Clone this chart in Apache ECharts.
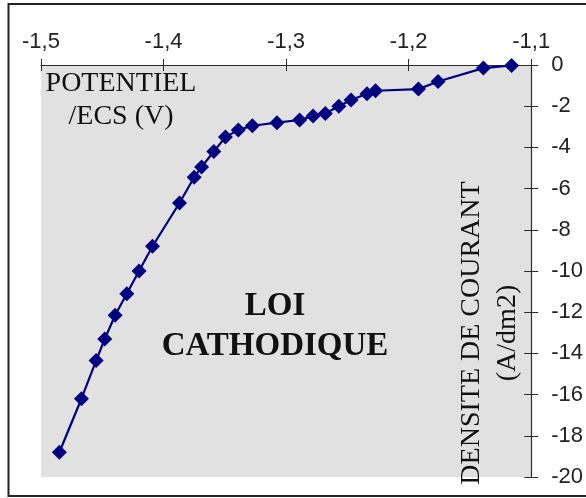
<!DOCTYPE html>
<html>
<head>
<meta charset="utf-8">
<script src="https://cdn.jsdelivr.net/npm/echarts@6/dist/echarts.min.js"></script>
<style>
	html, body { margin: 0; padding: 0; background: #fff; }
	#chart { width: 586px; height: 498px; }
</style>
</head>
<body>
<div id="chart"></div>
<script>
// loi cathodique : densite de courant en fonction du potentiel
var potentiel = [-1.485, -1.467, -1.455, -1.448, -1.4395, -1.430, -1.420, -1.409, -1.387, -1.375,
	-1.369, -1.359, -1.3495, -1.339, -1.3275, -1.3075, -1.289, -1.278, -1.268, -1.257,
	-1.247, -1.234, -1.227, -1.192, -1.176, -1.139, -1.116];
var densite = [-18.8, -16.2, -14.35, -13.3, -12.15, -11.1, -10.0, -8.8, -6.7, -5.45,
	-4.95, -4.2, -3.5, -3.15, -2.95, -2.8, -2.67, -2.48, -2.35, -2.0,
	-1.7, -1.4, -1.25, -1.17, -0.8, -0.15, -0.02];
var xTicks = [-1.5, -1.1, 0.1];   // min, max, pas
var yTicks = [-20, 0, 2];

window.onload = function () {
	var myChart = echarts.init(document.getElementById('chart'));

	var data = [];
	for (var i = 0; i < potentiel.length; i++) {
		data.push([potentiel[i], densite[i]]);
	}

	var axisColor = '#2a2a2a';
	function virgule(v) {
		return (Math.round(v * 10) / 10).toString().replace('.', ',');
	}

	var option = {
		animation: false,
		grid: {
			left: 41,
			right: 51,
			top: 65,
			bottom: 21,
			show: true,
			backgroundColor: '#e1e1e1',
			borderWidth: 0
		},
		xAxis: [{
			type: 'value',
			position: 'top',
			min: xTicks[0],
			max: xTicks[1],
			interval: xTicks[2],
			axisLine: { lineStyle: { color: axisColor, width: 1.2 } },
			axisTick: { length: 6, lineStyle: { color: axisColor } },
			axisLabel: {
				color: '#222',
				fontFamily: 'Liberation Sans',
				fontSize: 22,
				margin: 12,
				formatter: virgule
			},
			splitLine: { show: false }
		}, {
			type: 'value',
			position: 'top',
			min: xTicks[0],
			max: xTicks[1],
			interval: xTicks[2],
			axisLine: { show: false },
			axisTick: { inside: true, length: 6, lineStyle: { color: axisColor } },
			axisLabel: { show: false },
			splitLine: { show: false }
		}],
		yAxis: [{
			type: 'value',
			position: 'right',
			min: yTicks[0],
			max: yTicks[1],
			interval: yTicks[2],
			axisLine: { show: true, lineStyle: { color: axisColor, width: 1.2 } },
			axisTick: { show: true, length: 7, lineStyle: { color: axisColor } },
			axisLabel: {
				color: '#222',
				fontFamily: 'Liberation Sans',
				fontSize: 22,
				margin: 20
			},
			splitLine: { show: false }
		}, {
			type: 'value',
			position: 'right',
			min: yTicks[0],
			max: yTicks[1],
			interval: yTicks[2],
			axisLine: { show: false },
			axisTick: { show: true, inside: true, length: 7, lineStyle: { color: axisColor } },
			axisLabel: { show: false },
			splitLine: { show: false }
		}],
		graphic: [{
			type: 'rect',
			shape: { x: 8.5, y: 4, width: 640, height: 492 },
			style: { fill: 'none', stroke: '#222', lineWidth: 2 },
			silent: true
		}, {
			type: 'text',
			x: 121,
			y: 100,
			style: {
				text: 'POTENTIEL\n/ECS (V)',
				font: '28px "Liberation Serif"',
				fill: '#111',
				align: 'center',
				verticalAlign: 'middle',
				lineHeight: 33
			}
		}, {
			type: 'text',
			x: 275,
			y: 326,
			style: {
				text: 'LOI\nCATHODIQUE',
				font: 'bold 33px "Liberation Serif"',
				fill: '#111',
				align: 'center',
				verticalAlign: 'middle',
				lineHeight: 40
			}
		}, {
			type: 'text',
			x: 490,
			y: 333,
			rotation: Math.PI / 2,
			style: {
				text: 'DENSITE DE COURANT\n(A/dm2)',
				font: '28px "Liberation Serif"',
				fill: '#111',
				align: 'center',
				verticalAlign: 'middle',
				lineHeight: 36
			}
		}],
		series: [{
			name: 'loi cathodique',
			type: 'line',
			xAxisIndex: 0,
			yAxisIndex: 0,
			data: data,
			symbol: 'diamond',
			symbolSize: 15,
			itemStyle: { color: '#000080' },
			lineStyle: { color: '#000080', width: 2.2 }
		}]
	};
	myChart.setOption(option);
};
</script>
</body>
</html>
